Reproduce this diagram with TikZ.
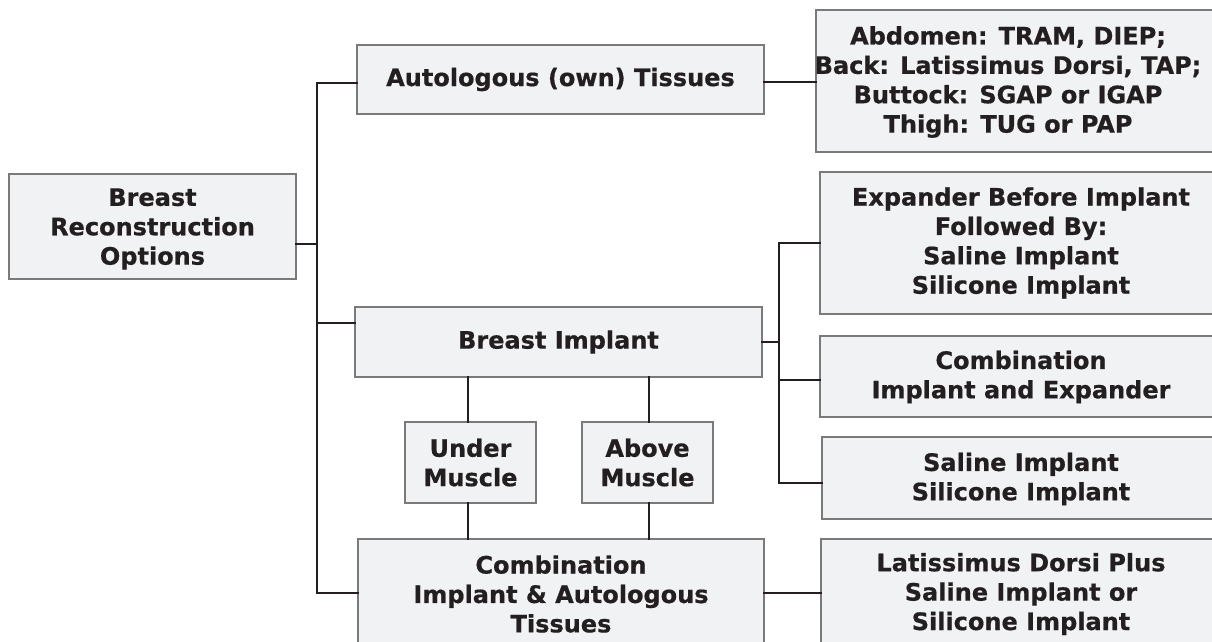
\documentclass[tikz,border=0pt]{standalone}
\usepackage{fontspec}
\setmainfont{DejaVu Sans}[BoldFeatures={FakeBold=0.6}]
\definecolor{boxfill}{HTML}{F1F2F4}
\definecolor{boxline}{HTML}{7A7A7A}
\definecolor{ink}{HTML}{231F20}
\tikzset{
  box/.style={draw=boxline, fill=boxfill, line width=2.5pt, inner sep=0pt, outer sep=0pt},
  txt/.style={align=center, text=ink, font=\fontsize{24}{29.4}\selectfont\bfseries, inner sep=0pt},
  conn/.style={draw=ink, line width=2.6pt, line cap=rect}
}
\begin{document}
\begin{tikzpicture}[x=1pt,y=-1pt]
\useasboundingbox (0,0) rectangle (1212,641);
\clip (0,0) rectangle (1212,641);
% left column
\node[box, minimum width=287, minimum height=105] (root) at (152.5,226.5) {};
\node[txt] (roott) at (152.5,229) {Breast\\Reconstruction\\Options};
% middle column
\node[box, txt, minimum width=407, minimum height=69] (auto) at (560.5,79.5) {Autologous (own) Tissues};
\node[box, txt, minimum width=407, minimum height=70] (bi) at (558.5,342) {Breast Implant};
\node[box, txt, minimum width=131, minimum height=81] (um) at (470.5,462.5) {Under\\Muscle};
\node[box, txt, minimum width=131, minimum height=81] (am) at (647.5,462.5) {Above\\Muscle};
\node[box, minimum width=406, minimum height=130, anchor=north west] (cia) at (358,539) {};
\node[txt] (ciat) at (561,594) {Combination\\Implant \& Autologous\\Tissues};
% right column
\node[box, minimum width=420, minimum height=142, anchor=north west] (r1) at (816,10) {};
\node[txt] (r1t) at (1008,82) {Abdomen: TRAM, DIEP;\\Back: Latissimus Dorsi, TAP;\\Buttock: SGAP or IGAP\\Thigh: TUG or PAP};
\node[box, minimum width=420, minimum height=142, anchor=north west] (r2) at (820,172) {};
\node[txt] (r2t) at (1021,243) {Expander Before Implant\\Followed By:\\Saline Implant\\Silicone Implant};
\node[box, minimum width=420, minimum height=81, anchor=north west] (r3) at (820,336) {};
\node[txt] (r3t) at (1021,377) {Combination\\Implant and Expander};
\node[box, minimum width=420, minimum height=82, anchor=north west] (r4) at (822,437) {};
\node[txt] (r4t) at (1021,479) {Saline Implant\\Silicone Implant};
\node[box, minimum width=420, minimum height=130, anchor=north west] (r5) at (821,539) {};
\node[txt] (r5t) at (1021,594) {Latissimus Dorsi Plus\\Saline Implant or\\Silicone Implant};
% bus coordinates
\coordinate (lbTop) at (317,83);
\coordinate (lbRoot) at (317,244);
\coordinate (lbBI) at (317,323);
\coordinate (lbBot) at (317,593);
\coordinate (rbTop) at (779,243);
\coordinate (rbBI) at (779,342);
\coordinate (rbMid) at (779,380);
\coordinate (rbBot) at (779,483);
% connectors
\draw[conn] (lbTop -| auto.west) -- (lbTop) -- (lbBot) -- (lbBot -| cia.west);
\draw[conn] (lbRoot -| root.east) -- (lbRoot);
\draw[conn] (lbBI) -- (lbBI -| bi.west);
\draw[conn] (auto.east |- 0,82) -- (r1.west |- 0,82);
\draw[conn] (rbTop -| r2.west) -- (rbTop) -- (rbBot) -- (rbBot -| r4.west);
\draw[conn] (rbBI -| bi.east) -- (rbBI);
\draw[conn] (rbMid) -- (rbMid -| r3.west);
\draw[conn] (cia.east |- 0,593) -- (r5.west |- 0,593);
\draw[conn] (bi.south -| 468,0) -- (um.north -| 468,0);
\draw[conn] (um.south -| 468,0) -- (cia.north -| 468,0);
\draw[conn] (bi.south -| 649,0) -- (am.north -| 649,0);
\draw[conn] (am.south -| 649,0) -- (cia.north -| 649,0);
\end{tikzpicture}
\end{document}
